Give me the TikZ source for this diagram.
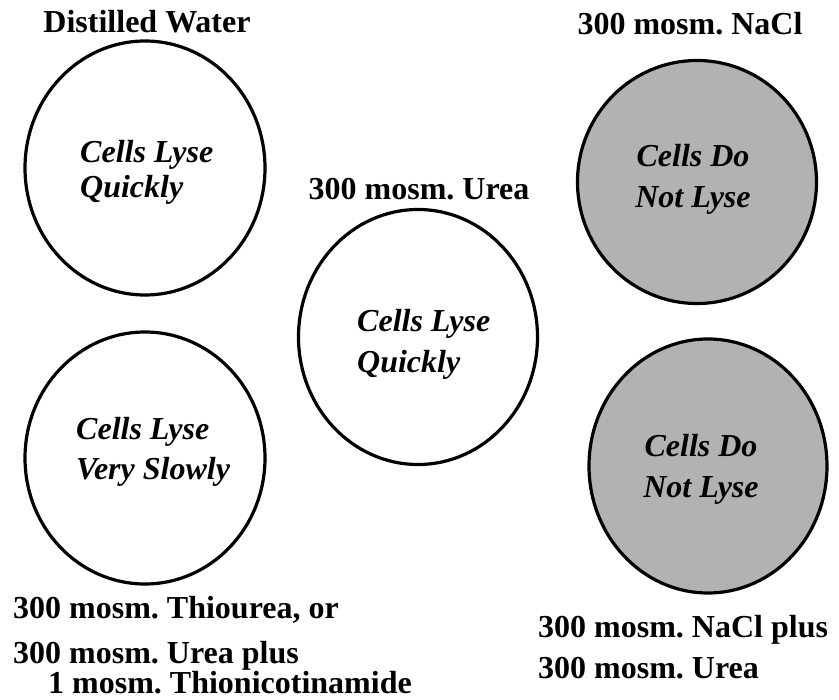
\documentclass[tikz,border=0pt]{standalone}
\usepackage{fontspec}
\setmainfont{Liberation Serif}
\usetikzlibrary{shapes.geometric}
\frenchspacing

\begin{document}
\begin{tikzpicture}[x=1pt, y=-1pt,
  cell/.style={draw, ellipse, line width=3.2pt, inner sep=0pt},
  intact/.style={cell, fill=black!30},
  lbl/.style={font=\bfseries\fontsize{32}{40}\selectfont, inner sep=0pt, align=left},
  note/.style={font=\bfseries\itshape\fontsize{32}{40}\selectfont, inner sep=0pt}]
  \useasboundingbox (0,0) rectangle (839,700);
  % the five cell suspensions
  \node[cell, minimum width=240pt, minimum height=254pt] (water) at (145,168) {};
  \node[cell, minimum width=240pt, minimum height=252pt] (thio) at (145,458) {};
  \node[cell, minimum width=239pt, minimum height=255pt] (urea) at (418,337) {};
  \node[intact, minimum width=239pt, minimum height=243pt] (nacl) at (697,182) {};
  \node[intact, minimum width=238pt, minimum height=254pt] (mix) at (708,466) {};
  % what happens inside (base = last line)
  \node[note, align=left, anchor=base west] (waterTxt) at (80,198) {Cells Lyse\\[-5pt]Quickly};
  \node[note, align=left, anchor=base west] (thioTxt) at (76,480) {Cells Lyse\\Very Slowly};
  \node[note, align=left, anchor=base west] (ureaTxt) at (357,373) {Cells Lyse\\[1pt]Quickly};
  \node[note, align=center, anchor=base] (naclTxt) at (693,208) {Cells Do\\[1pt]Not Lyse};
  \node[note, align=center, anchor=base] (mixTxt) at (701,498) {Cells Do\\[1pt]Not Lyse};
  % media
  \node[lbl, anchor=base] (waterLbl) at (147,33) {Distilled Water};
  \node[lbl, anchor=base] (ureaLbl) at (419,200) {300 mosm. Urea};
  \node[lbl, anchor=base] (naclLbl) at (690,35) {300 mosm. NaCl};
  \node[lbl, anchor=base west] (thioLbl) at (13,693)
    {300 mosm. Thiourea, or\\[5pt]300 mosm. Urea plus\\[-10pt]\hspace*{35pt}1 mosm. Thionicotinamide};
  \node[lbl, anchor=base west] (mixLbl) at (538,678) {300 mosm. NaCl plus\\[1pt]300 mosm. Urea};
\end{tikzpicture}
\end{document}
